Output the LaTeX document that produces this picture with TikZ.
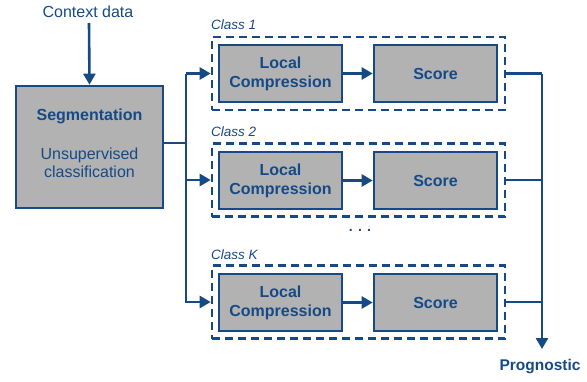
\documentclass[tikz,border=0pt]{standalone}
\usepackage{fontspec}
\setmainfont{Liberation Sans}
\usetikzlibrary{arrows.meta}
\definecolor{dblue}{RGB}{22,74,134}
\definecolor{boxgray}{RGB}{178,178,178}
\begin{document}
\begin{tikzpicture}[x=1pt,y=-1pt,
  every node/.style={text=dblue,font=\fontsize{16}{18}\selectfont},
  graybox/.style={draw=dblue,line width=2.6pt,fill=boxgray,minimum width=123pt,minimum height=57pt,align=center,inner sep=0pt,font=\bfseries\fontsize{16}{19}\selectfont},
  classbox/.style={draw=dblue,line width=2.6pt,dash pattern=on 8pt off 5pt,minimum width=293pt,minimum height=73pt,inner sep=0pt},
  conn/.style={draw=dblue,line width=2.6pt},
  arr/.style={conn,-{Triangle[length=11pt,width=12pt]}},
  lbl/.style={font=\itshape\fontsize{13.5}{15}\selectfont,anchor=west,inner sep=0pt}
]
\useasboundingbox (0,0) rectangle (587,381);

% context + segmentation
\node (ctx) at (88,12) {Context data};
\node[draw=dblue,line width=2.6pt,fill=boxgray,minimum width=147pt,minimum height=122pt,inner sep=0pt] (seg) at (89.5,147) {};
\node[align=center,inner sep=0pt] (segtxt) at (89.5,143.5)
  {\textbf{Segmentation}\\[21pt]Unsupervised\\classification};
\coordinate (ctxs) at (89,23);
\draw[arr] (ctxs) -- (seg.north);

% class boxes
\node[classbox] (cl1) at (358.5,73.5) {};
\node[classbox] (cl2) at (358.5,180) {};
\node[classbox] (clK) at (358.5,302) {};
\node[lbl] (t1) at (211,25) {Class 1};
\node[lbl] (t2) at (211,132) {Class 2};
\node[lbl] (tK) at (211,255) {Class K};

\node[graybox] (lc1) at (280.5,73.5) {Local\\Compression};
\node[graybox] (sc1) at (435.5,73.5) {Score};
\node[graybox] (lc2) at (280.5,180.5) {Local\\Compression};
\node[graybox] (sc2) at (435.5,180.5) {Score};
\node[graybox] (lcK) at (280.5,302.5) {Local\\Compression};
\node[graybox] (scK) at (435.5,302.5) {Score};
\draw[arr] (lc1) -- (sc1);
\draw[arr] (lc2) -- (sc2);
\draw[arr] (lcK) -- (scK);

\node[font=\bfseries\fontsize{14}{16}\selectfont] (dots) at (360,230) {. . .};

% branching
\coordinate (b) at (186,143);
\draw[conn] (seg.east |- b) -- (b);
\coordinate (b1) at (186,73.5);
\draw[conn] (b) -- (b1);
\draw[arr] (b1) -- (cl1.west);
\draw[arr] (b) |- (cl2.west);
\draw[arr] (b) |- (clK.west);

% output
\coordinate (r1) at (542,73.5);
\coordinate (r2) at (542,180);
\coordinate (rK) at (542,302);
\coordinate (rend) at (542,349);
\draw[conn] (cl1.east) -- (r1);
\draw[conn] (cl2.east) -- (r2);
\draw[conn] (clK.east) -- (rK);
\draw[arr] (r1) -- (rend);
\node[font=\bfseries\fontsize{15.5}{18}\selectfont] (prog) at (540,367) {Prognostic};
\end{tikzpicture}
\end{document}
